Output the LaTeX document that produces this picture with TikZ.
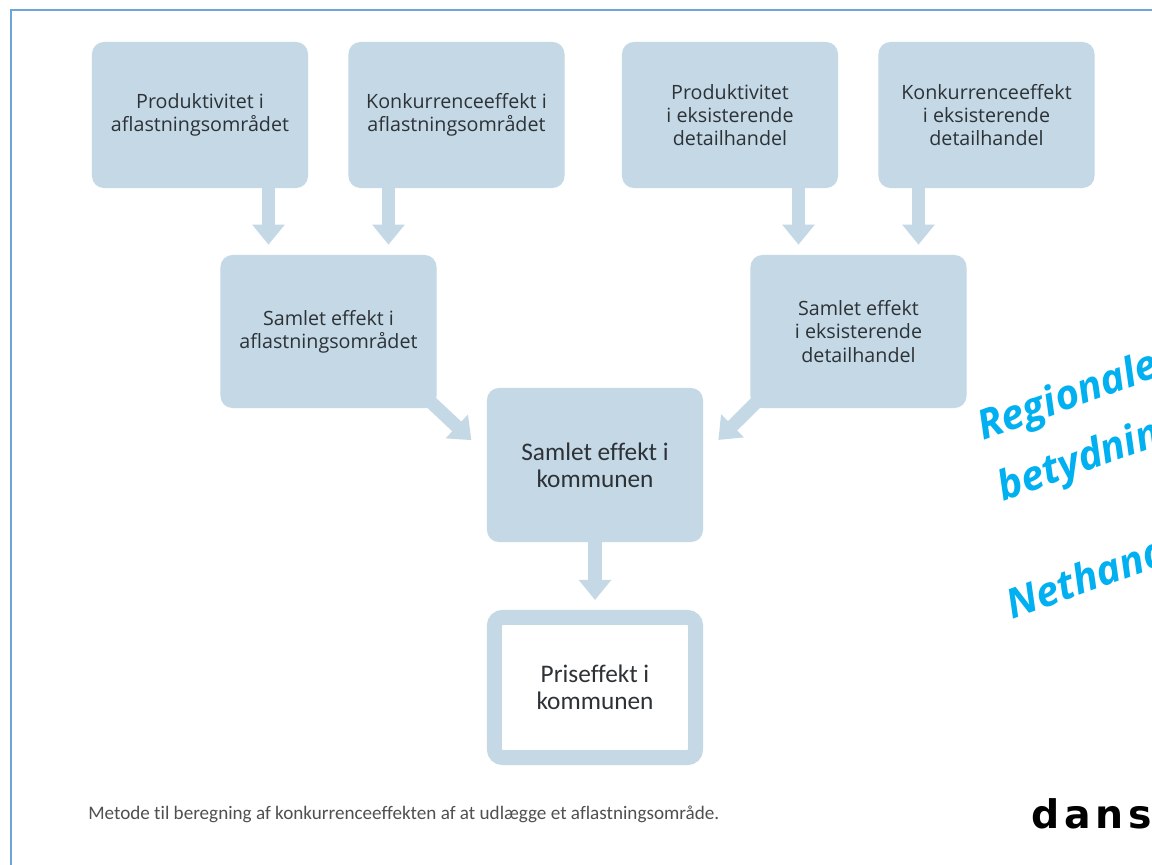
\documentclass[tikz,border=0pt]{standalone}
\usepackage{fontspec}
\setmainfont{Open Sans}
\newfontfamily\calfont[Ligatures=NoCommon]{Carlito}
\newfontfamily\stampfont{Open Sans}
\newfontfamily\logofont[LetterSpace=12]{DejaVu Sans}
\usepackage{xcolor}
\usetikzlibrary{arrows.meta,positioning,calc}
\definecolor{boxblue}{RGB}{196,216,229}
\definecolor{frameblue}{RGB}{110,165,215}
\definecolor{stampblue}{RGB}{0,176,240}
\definecolor{captiongrey}{RGB}{80,80,80}
\definecolor{boxtext}{RGB}{45,50,55}

\begin{document}
\begin{tikzpicture}[x=0.025cm,y=-0.025cm,
  effbox/.style={fill=boxblue, rounded corners=0.3cm, minimum width=5.4cm,
    minimum height=3.65cm, align=center, inner sep=0pt, text=boxtext,
    font=\fontsize{14}{16.5}\selectfont},
  sumbox/.style={effbox, minimum height=3.825cm},
  townbox/.style={effbox, minimum height=3.85cm, font=\calfont\fontsize{18}{19.2}\selectfont},
  pricebox/.style={townbox, fill=white, draw=boxblue, line width=0.375cm,
    rounded corners=0.2cm, minimum width=5.025cm, minimum height=3.5cm},
  flow/.style={draw=boxblue, line width=0.33cm,
    -{Triangle[width=0.78cm,length=0.5cm]}, shorten >=0.25cm},
  stamp/.style={anchor=base west, rotate=20, text=stampblue, inner sep=0pt,
    font=\stampfont\bfseries\itshape\fontsize{29}{31}\selectfont}
]
  \useasboundingbox (0,0) rectangle (1152,865);
  \clip (0,0) rectangle (1152,865);
  \fill[white] (0,0) rectangle (1152,865);
  \draw[frameblue, line width=1.5pt] (11,900) |- (1200,10); % page frame

  % Top row
  \node[effbox] (p1) at (200,115) {Produktivitet i\\aflastningsområdet};
  \node[effbox] (p2) at (456.5,115) {Konkurrenceeffekt i\\aflastningsområdet};
  \node[effbox] (p3) at (730,115) {Produktivitet\\i eksisterende\\detailhandel};
  \node[effbox] (p4) at (986.5,115) {Konkurrenceeffekt\\i eksisterende\\detailhandel};
  % Middle row
  \node[sumbox] (s1) at (328.5,331.5) {Samlet effekt i\\aflastningsområdet};
  \node[sumbox] (s2) at (858.5,331.5) {Samlet effekt\\i eksisterende\\detailhandel};
  % Municipality
  \node[townbox] (k) at (595,465) {Samlet effekt i\\kommunen};
  \node[pricebox] (pk) at (595,687.5) {Priseffekt i\\kommunen};

  % Arrows
  \coordinate (in1) at ($(s1.north)+(-60,0)$);
  \coordinate (in2) at ($(s1.north)+(60,0)$);
  \coordinate (in3) at ($(s2.north)+(-60,0)$);
  \coordinate (in4) at ($(s2.north)+(60,0)$);
  \draw[flow] (in1 |- p1.south) -- (in1);
  \draw[flow] (in2 |- p2.south) -- (in2);
  \draw[flow] (in3 |- p3.south) -- (in3);
  \draw[flow] (in4 |- p4.south) -- (in4);
  \draw[flow] ($(s1.south east)+(-10,-10)$) -- ($(k.west)+(-8,-18)$);
  \draw[flow] ($(s2.south west)+(10,-10)$) -- ($(k.east)+(8,-18)$);
  \draw[flow] (k.south) -- (pk.north);

  % Caption
  \node[anchor=base west, inner sep=0pt, text=captiongrey,
    font=\calfont\fontsize{13.6}{15}\selectfont] (cap) at (88,819)
    {Metode til beregning af konkurrenceeffekten af at udlægge et aflastningsområde.};

  % Overlay texts
  \node[stamp] (st1) at (983,441) {Regionale};
  \node[stamp] (st2) at (1003,502) {betydnin};
  \node[stamp] (st3) at (1012,620) {Nethand};
  \node[anchor=base west, inner sep=0pt,
    font=\logofont\bfseries\fontsize{28}{30}\selectfont] (logo) at (1031,828) {dans};
\end{tikzpicture}
\end{document}
